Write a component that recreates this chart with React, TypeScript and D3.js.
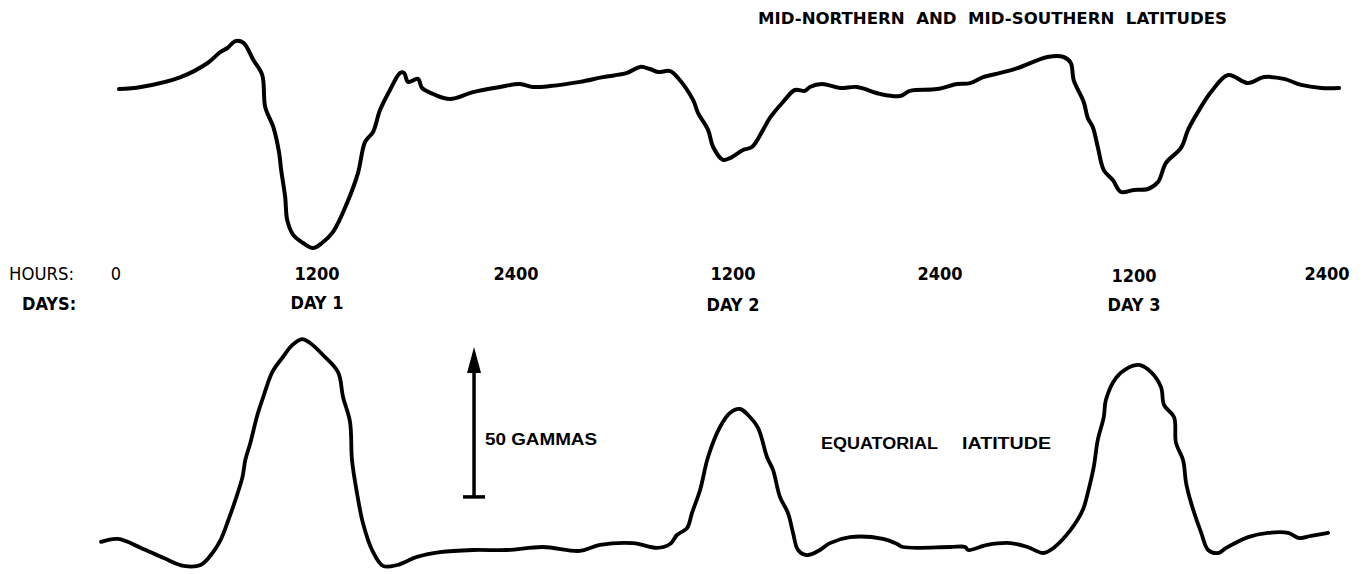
import React, { useEffect, useRef } from "react";
import * as d3 from "d3";

// tick labels along the time axis (hours from start of record)
const hourTicks = [0, 12, 24, 36, 48, 60, 72];
const hourLabels = ["0", "1200", "2400", "1200", "2400", "1200", "2400"];
const dayHours = [12, 36, 60];
const dayLabels = ["DAY 1", "DAY 2", "DAY 3"];

// mid-northern / mid-southern latitudes trace (gammas vs hours)
const midHours = [
  0.18, 1.49, 3.86, 5.47, 6.24, 6.65, 7.13, 7.61, 8.2, 8.73, 8.91, 9.39, 9.74, 9.86, 10.1, 10.22,
  10.58, 11.17, 11.76, 12.3, 12.97, 13.81, 14.47, 14.9, 15.38, 15.8, 16.4, 17.01, 17.25, 17.49,
  18.09, 18.33, 18.99, 20.02, 21.41, 23.03, 24.22, 24.94, 25.88, 27.54, 28.81, 30.14, 30.86,
  31.41, 31.85, 32.52, 32.96, 33.79, 34.07, 34.62, 34.9, 35.45, 35.83, 36.58, 37.1, 37.74, 38.14,
  38.9, 39.59, 40.17, 40.46, 41.16, 42.2, 43.19, 44.52, 45.68, 46.26, 47.83, 49.06, 49.87, 50.67,
  51.73, 52.79, 54.65, 55.65, 56.09, 56.27, 56.89, 57.14, 57.45, 57.76, 58.13, 58.69, 59.19, 60.0,
  60.87, 61.49, 61.99, 62.92, 63.36, 63.98, 64.79, 65.85, 67.09, 68.09, 69.33, 70.39, 71.64, 72.75,
];
const midGammas = [
  0.3, 1.0, 4.3, 9.0, 12.7, 14.0, 16.3, 15.7, 10.0, 5.0, -5.7, -12.3, -21.0, -26.7, -35.7, -43.3,
  -48.3, -51.0, -52.7, -51.0, -47.3, -37.7, -27.7, -17.3, -14.0, -6.7, 0, 5.7, 5.7, 2.7,
  3.7, 0.7, -1.3, -3.0, -0.7, 1.0, 2.0, 1.0, 1.3, 2.7, 4.3, 5.7, 7.7,
  7.0, 6.0, 6.3, 4.0, -3.3, -7.7, -13.3, -19.0, -23.3, -22.7, -20.0, -19.0, -13.3, -9.3,
  -4.0, 0, -0.3, 1.0, 2.0, 0.7, 1.0, -1.3, -2.0, -0.3, 0.3, 2.0, 2.3, 4.3,
  5.7, 7.3, 11.0, 11.0, 9.0, 3.3, -4.0, -9.3, -12.3, -19.0, -26.7, -30.0, -34.0, -33.3,
  -33.0, -30.7, -24.3, -19.3, -13.3, -7.3, -0.7, 5.0, 2.3, 4.3, 3.7, 1.7, 0.7, 0.7,
];

// equatorial latitude trace (gammas vs hours)
const eqHours = [
  -0.89, 0.12, 1.49, 2.85, 4.04, 5.05, 5.76, 6.24, 6.71, 7.13, 7.55, 7.72, 8.02, 8.44, 8.79, 9.33,
  9.92, 10.52, 11.11, 11.59, 12.36, 13.27, 13.57, 13.99, 14.11, 14.41, 14.77, 15.32, 15.98, 16.83,
  18.03, 19.42, 21.41, 23.46, 25.49, 27.54, 28.65, 30.47, 31.8, 32.52, 32.9, 33.46, 33.73, 34.18,
  34.62, 35.28, 35.83, 36.41, 36.87, 37.45, 37.97, 38.32, 38.72, 39.19, 39.48, 39.77, 40.29, 41.04,
  41.62, 42.78, 44.7, 45.51, 45.86, 48.62, 49.55, 49.74, 50.92, 52.35, 53.41, 54.4, 55.02, 56.08,
  56.83, 57.14, 57.51, 57.76, 58.13, 58.26, 58.88, 59.63, 60.31, 61.06, 61.68, 61.87, 62.49, 62.61,
  63.05, 63.24, 63.55, 64.18, 64.61, 65.24, 65.73, 67.1, 68.34, 69.58, 70.27, 71.01, 72.07,
];
const eqGammas = [
  2.7, 3.7, 0.7, -2.7, -5.3, -5.0, -1.0, 3.3, 10.0, 16.7, 24.3, 30.0, 35.7, 45.0, 51.0, 59.3,
  64.0, 68.3, 70.3, 69.0, 65.0, 59.3, 51.0, 42.7, 30.0, 19.0, 9.0, 0, -5.3, -5.0,
  -2.3, -0.7, 0, 0, 1.0, -0.3, 1.7, 2.3, 0.7, 2.0, 5.0, 7.3, 12.3, 20.0,
  31.0, 41.0, 45.7, 47.0, 45.0, 40.7, 31.0, 26.7, 17.7, 12.3, 5.7, 0, -1.7, 0,
  2.3, 4.3, 3.7, 2.0, 1.0, 1.0, 1.0, 0, 1.7, 2.3, 1.0, -1.0, 0.7, 6.7,
  13.3, 19.0, 27.7, 36.7, 44.3, 50.0, 57.3, 60.7, 61.7, 59.3, 54.3, 48.3, 44.3, 35.7,
  30.0, 22.3, 15.7, 5.7, 0, -1.0, 0.7, 4.3, 5.7, 5.7, 4.0, 4.7, 5.7,
];

// scale bar
const arrowHour = 21.47;
const arrowBase = 17.7;
const arrowGammas = 50;

const W = 1370;
const H = 574;
const narrow = "'Liberation Sans Narrow', 'Arial Narrow', 'DejaVu Sans Condensed', sans-serif";
const wide = "'Liberation Sans', Arial, Helvetica, sans-serif";

export default function App() {
  const ref = useRef<SVGSVGElement | null>(null);

  useEffect(() => {
    const svg = d3.select(ref.current);
    svg.selectAll("*").remove();

    // the printed hour marks are not evenly spaced, so use a piecewise scale
    const x = d3.scaleLinear().domain(hourTicks).range([116, 317, 516, 733, 940, 1134, 1327]);
    const yMid = d3.scaleLinear().domain([0, 50]).range([90, -60]);
    const yEq = d3.scaleLinear().domain([0, 50]).range([550, 400]);

    const midLine = d3
      .line<number>()
      .x((d, i) => x(midHours[i]))
      .y((d) => yMid(d))
      .curve(d3.curveCatmullRom.alpha(0.5));
    const eqLine = d3
      .line<number>()
      .x((d, i) => x(eqHours[i]))
      .y((d) => yEq(d))
      .curve(d3.curveCatmullRom.alpha(0.5));

    svg.append("path")
      .attr("d", midLine(midGammas))
      .attr("fill", "none")
      .attr("stroke", "#000")
      .attr("stroke-width", 4)
      .attr("stroke-linejoin", "round")
      .attr("stroke-linecap", "round");

    svg.append("path")
      .attr("d", eqLine(eqGammas))
      .attr("fill", "none")
      .attr("stroke", "#000")
      .attr("stroke-width", 3.8)
      .attr("stroke-linejoin", "round")
      .attr("stroke-linecap", "round");

    // title
    svg.append("text")
      .attr("x", 758)
      .attr("y", 24)
      .attr("font-family", narrow)
      .attr("font-weight", "bold")
      .attr("font-size", 15.5)
      .attr("textLength", 469)
      .attr("lengthAdjust", "spacingAndGlyphs")
      .style("white-space", "pre")
      .text("MID-NORTHERN  AND  MID-SOUTHERN  LATITUDES");

    // axis rows
    svg.append("text")
      .attr("x", 9)
      .attr("y", 280)
      .attr("font-family", narrow)
      .attr("font-size", 18)
      .attr("textLength", 65)
      .attr("lengthAdjust", "spacingAndGlyphs")
      .text("HOURS:");
    svg.append("text")
      .attr("x", 22)
      .attr("y", 310)
      .attr("font-family", narrow)
      .attr("font-weight", "bold")
      .attr("font-size", 18)
      .text("DAYS:");

    svg.selectAll("text.hour")
      .data(hourTicks)
      .enter()
      .append("text")
      .attr("class", "hour")
      .attr("x", (d) => x(d))
      .attr("y", (d, i) => (i === 5 ? 282 : 280))
      .attr("text-anchor", "middle")
      .attr("font-family", narrow)
      .attr("font-weight", (d, i) => (i === 0 ? "normal" : "bold"))
      .attr("font-size", 18)
      .text((d, i) => hourLabels[i]);

    svg.selectAll("text.day")
      .data(dayHours)
      .enter()
      .append("text")
      .attr("class", "day")
      .attr("x", (d) => x(d))
      .attr("y", (d, i) => (i === 0 ? 309 : 311))
      .attr("text-anchor", "middle")
      .attr("font-family", narrow)
      .attr("font-weight", "bold")
      .attr("font-size", 18)
      .text((d, i) => dayLabels[i]);

    // 50 gamma scale arrow
    const ax = x(arrowHour);
    const y0 = yEq(arrowBase);
    const y1 = yEq(arrowBase + arrowGammas);
    svg.append("line")
      .attr("x1", ax).attr("x2", ax)
      .attr("y1", y0).attr("y2", y1 + 12)
      .attr("stroke", "#000")
      .attr("stroke-width", 3.5);
    svg.append("line")
      .attr("x1", ax - 11).attr("x2", ax + 11)
      .attr("y1", y0).attr("y2", y0)
      .attr("stroke", "#000")
      .attr("stroke-width", 3.5);
    svg.append("path")
      .attr("d", `M${ax},${y1} L${ax - 7},${y1 + 26} L${ax + 7},${y1 + 26} Z`)
      .attr("fill", "#000");

    svg.append("text")
      .attr("x", ax + 11)
      .attr("y", 445)
      .attr("font-family", wide)
      .attr("font-weight", "bold")
      .attr("font-size", 16)
      .attr("textLength", 112)
      .attr("lengthAdjust", "spacingAndGlyphs")
      .text("50 GAMMAS");

    svg.append("text")
      .attr("x", 821)
      .attr("y", 449)
      .attr("font-family", wide)
      .attr("font-weight", "bold")
      .attr("font-size", 16)
      .attr("textLength", 117)
      .attr("lengthAdjust", "spacingAndGlyphs")
      .text("EQUATORIAL");
    svg.append("text")
      .attr("x", 962)
      .attr("y", 449)
      .attr("font-family", wide)
      .attr("font-weight", "bold")
      .attr("font-size", 16)
      .attr("textLength", 89)
      .attr("lengthAdjust", "spacingAndGlyphs")
      .text("IATITUDE");
  }, []);

  return (
    <svg
      ref={ref}
      width={W}
      height={H}
      style={{ position: "absolute", left: 0, top: 0, background: "#fff", display: "block" }}
    />
  );
}
